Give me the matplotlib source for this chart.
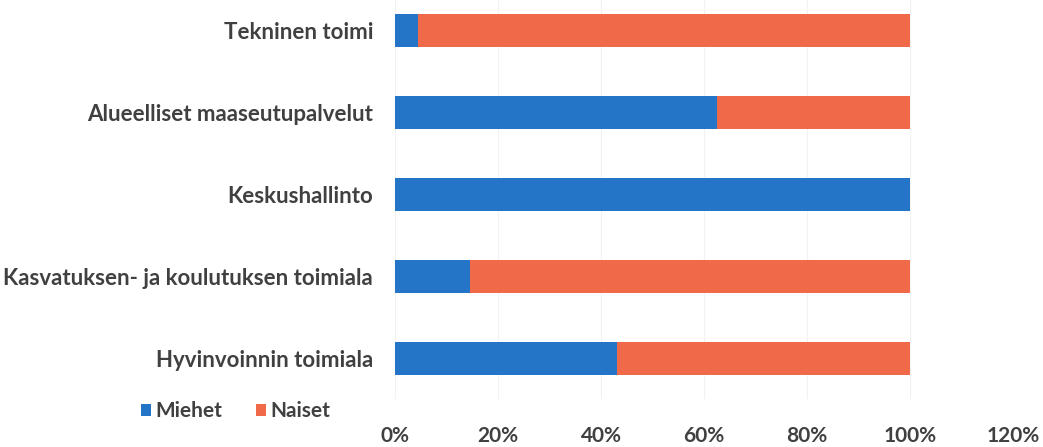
import matplotlib.pyplot as plt
from matplotlib.ticker import FuncFormatter

plt.rcParams['font.family'] = ['Lato', 'DejaVu Sans']

categories = ['Hyvinvoinnin toimiala',
              'Kasvatuksen- ja koulutuksen toimiala',
              'Keskushallinto',
              'Alueelliset maaseutupalvelut',
              'Tekninen toimi']
miehet = [0.43, 0.145, 1.00, 0.625, 0.045]
naiset = [0.57, 0.855, 0.00, 0.375, 0.955]
xticks = [0, 0.2, 0.4, 0.6, 0.8, 1.0, 1.2]

blue = '#2474c8'
orange = '#f06a4a'
textc = '#404040'

fig = plt.figure(figsize=(10.43, 4.47), dpi=100)
ax = fig.add_axes([0.379, 0.107, 0.592, 0.893])

ax.barh(range(len(categories)), miehet, height=0.4, color=blue, label='Miehet')
ax.barh(range(len(categories)), naiset, height=0.4, left=miehet, color=orange, label='Naiset')

ax.set_xlim(0, 1.2)
ax.set_ylim(-0.5, 4.37)
ax.set_xticks(xticks)
ax.xaxis.set_major_formatter(FuncFormatter(lambda v, p: f'{v * 100:.0f}%'))
ax.set_yticks(range(len(categories)))
ax.set_yticklabels(categories)
ax.tick_params(axis='both', length=0, labelsize=15, colors=textc)
ax.tick_params(axis='y', labelsize=16, pad=16)
ax.tick_params(axis='x', pad=19)
for lab in ax.get_yticklabels() + ax.get_xticklabels():
    lab.set_fontweight('bold')

ax.grid(True, axis='x', color='#f2f2f2', lw=0.8)
ax.set_axisbelow(True)
for s in ax.spines.values():
    s.set_visible(False)

leg = fig.legend(loc='center left', bbox_to_anchor=(0.117, 0.08), ncol=2, frameon=False,
                 handlelength=0.5, handleheight=0.5, handletextpad=0.2, columnspacing=1.6,
                 prop={'size': 15, 'weight': 'bold'})
for t in leg.get_texts():
    t.set_color(textc)

fig.savefig('out.png', dpi=100)
